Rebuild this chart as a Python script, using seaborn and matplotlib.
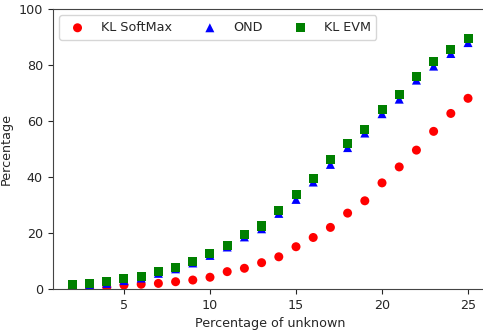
import numpy as np
import pandas as pd
import matplotlib
matplotlib.use("Agg")
import matplotlib.pyplot as plt
import seaborn as sns

unknown_pct = [2, 3, 4, 5, 6, 7, 8, 9, 10, 11, 12, 13, 14, 15, 16, 17, 18, 19, 20, 21, 22, 23, 24, 25]
kl_softmax = [0.1, 0.3, 0.6, 1.4, 1.7, 2.0, 2.6, 3.2, 4.2, 6.2, 7.4, 9.4, 11.5, 15.1, 18.4, 22.0, 27.1, 31.5, 37.9, 43.6, 49.6, 56.3, 62.7, 68.1]
ond = [1.2, 1.5, 2.0, 3.0, 3.9, 5.6, 7.2, 9.3, 12.0, 15.0, 18.6, 21.5, 27.0, 32.0, 38.2, 44.5, 50.5, 55.7, 62.6, 67.8, 74.6, 79.6, 84.1, 88.0]
kl_evm = [1.7, 1.9, 2.6, 3.6, 4.4, 6.2, 7.7, 9.8, 12.7, 15.7, 19.3, 22.5, 28.0, 33.7, 39.4, 46.1, 51.9, 57.0, 64.2, 69.6, 75.8, 81.2, 85.6, 89.3]

series_names = ["KL SoftMax", "OND", "KL EVM"]
series_values = [kl_softmax, ond, kl_evm]
colors = ["red", "blue", "green"]
markers = ["o", "^", "s"]

FS = 9.2
sns.set_style("ticks")
plt.rcParams['font.family'] = ['DejaVu Sans']
plt.rcParams['font.size'] = FS

fig = plt.figure(figsize=(4.83, 3.31), dpi=100)
ax = fig.add_axes([52.6/483, 1-289/331, (487.8-52.6)/483, (289-9)/331])

for name, vals, c, m in zip(series_names, series_values, colors, markers):
    df = pd.DataFrame({"x": unknown_pct, "y": vals})
    sns.scatterplot(data=df, x="x", y="y", color=c, marker=m, s=42,
                    edgecolor="none", label=name, ax=ax)

ax.set_ylim(0, 100)
ax.set_xlim(0.85, 26.15)
ax.set_xticks([5, 10, 15, 20, 25])
ax.set_yticks([0, 20, 40, 60, 80, 100])
ax.set_xlabel("Percentage of unknown", fontsize=FS)
ax.set_ylabel("Percentage", fontsize=FS)
ax.tick_params(labelsize=FS)
for sp in ax.spines.values():
    sp.set_color("#444444")
ax.legend(loc="upper left", ncol=3, fontsize=FS, frameon=True, columnspacing=2.0,
          handletextpad=0.8, borderpad=0.45)

fig.savefig("out.png", dpi=100)
